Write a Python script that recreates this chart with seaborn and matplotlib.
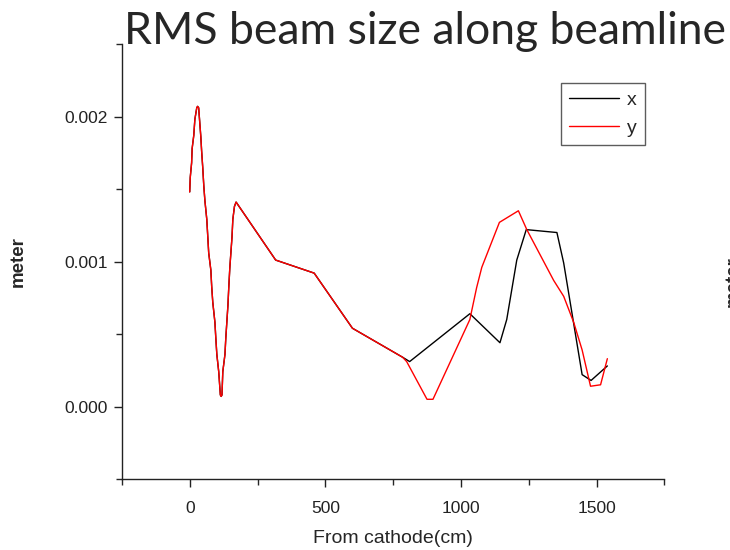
import numpy as np
import pandas as pd
import matplotlib
matplotlib.use("Agg")
import matplotlib.pyplot as plt
import seaborn as sns

# ---- data ----
shared_pos = [0, 2, 7, 9, 15, 19, 26, 29, 33, 41, 44, 48, 52, 56, 63, 67, 70, 78, 81, 85,
              93, 96, 100, 107, 113, 116, 119, 122, 130, 133, 141, 144, 148, 156, 159, 165,
              171, 317, 459, 600, 785]
shared_val = [0.00148, 0.00158, 0.00168, 0.00178, 0.00187, 0.00198, 0.00206, 0.00207, 0.00206,
              0.00186, 0.00176, 0.00165, 0.00152, 0.00142, 0.00129, 0.00116, 0.00106, 0.00094,
              0.00083, 0.00072, 0.00058, 0.00048, 0.00036, 0.00024, 0.00008, 0.00007, 0.00008,
              0.00024, 0.00036, 0.00047, 0.00070, 0.00082, 0.00096, 0.00117, 0.00129, 0.00138,
              0.00141, 0.00101, 0.00092, 0.00054, 0.00034]

x_tail_pos = [811, 1033, 1144, 1169, 1206, 1241, 1354, 1379, 1447, 1480, 1540]
x_tail_val = [0.00031, 0.00064, 0.00044, 0.00060, 0.00101, 0.00122, 0.00120, 0.00099,
              0.00022, 0.00018, 0.00028]

y_tail_pos = [800, 875, 897, 1033, 1058, 1077, 1142, 1212, 1243, 1342, 1379, 1416, 1447,
              1478, 1515, 1540]
y_tail_val = [0.00031, 0.00005, 0.00005, 0.00060, 0.00082, 0.00096, 0.00127, 0.00135,
              0.00122, 0.00087, 0.00076, 0.00058, 0.00039, 0.00014, 0.00015, 0.00033]

series_names = ["x", "y"]
series_colors = ["#000000", "#ff0000"]
x_ticks = [0, 500, 1000, 1500]
y_ticks = [0.000, 0.001, 0.002]
y_tick_labels = ["0.000", "0.001", "0.002"]

title = "RMS beam size along beamline"
xlabel = "From cathode(cm)"
ylabel = "meter"

df = pd.concat([
    pd.DataFrame({"pos": shared_pos + x_tail_pos, "size": shared_val + x_tail_val, "series": "x"}),
    pd.DataFrame({"pos": shared_pos + y_tail_pos, "size": shared_val + y_tail_val, "series": "y"}),
], ignore_index=True)

# ---- figure ----
sns.set_theme(style="ticks")
plt.rcParams["font.family"] = ["Liberation Sans", "DejaVu Sans"]

fig = plt.figure(figsize=(7.3, 5.5), dpi=100)
ax = fig.add_axes([0.167, 0.129, 0.743, 0.791])

sns.lineplot(data=df, x="pos", y="size", hue="series", hue_order=series_names,
             palette=series_colors, estimator=None, sort=False, linewidth=1.0, ax=ax)

ax.set_xlim(-250, 1750)
ax.set_ylim(-0.0005, 0.0025)
ax.set_xticks(x_ticks)
ax.set_xticks([-250, 250, 750, 1250, 1750], minor=True)
ax.set_yticks(y_ticks)
ax.set_yticklabels(y_tick_labels)
ax.set_yticks([-0.0005, 0.0005, 0.0015, 0.0025], minor=True)
ax.tick_params(axis="both", which="major", direction="out", length=6, width=1,
               labelsize=12.5, colors="#222222", pad=4)
ax.tick_params(axis="both", which="minor", direction="out", length=4, width=1)
ax.tick_params(axis="x", labelsize=12.5, pad=10)
for s in ["top", "right"]:
    ax.spines[s].set_visible(False)
for s in ["left", "bottom"]:
    ax.spines[s].set_color("#222222")
    ax.spines[s].set_linewidth(1.0)

ax.set_xlabel(xlabel, fontsize=14, labelpad=10)
ax.set_ylabel(ylabel, fontsize=13.5, fontweight="bold", labelpad=27)

leg = ax.legend(loc="upper right", bbox_to_anchor=(0.964, 0.910), frameon=True, fancybox=False,
                fontsize=14, handlelength=2.6, handletextpad=0.4, borderpad=0.4,
                labelspacing=0.55, borderaxespad=0.0, title=None)
leg.get_frame().set_edgecolor("#333333")
leg.get_frame().set_linewidth(1.0)

fig.text(0.582, 0.943, title, fontsize=32, family=["Lato", "DejaVu Sans"],
         ha="center", va="center")
fig.text(725 / 730, 1 - 282 / 550, ylabel, fontsize=13.5, fontweight="bold", rotation=90,
         ha="left", va="center")

fig.savefig("out.png", dpi=100)
